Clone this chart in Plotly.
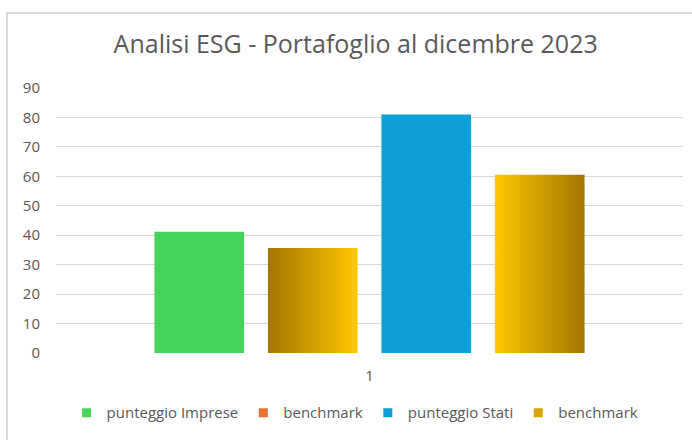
import plotly.graph_objects as go

C_TEXT = '#595959'
C_GRID = '#d9d9d9'
FONT = 'Open Sans, Roboto, sans-serif'

categoria = ['1']
serie = ['punteggio Imprese', 'benchmark', 'punteggio Stati', 'benchmark']
valori = [41.2, 35.7, 81.0, 60.5]
colori = ['#44d55a', '#d9a300', '#0f9ed5', '#d9a300']
colori_legenda = ['#44d55a', '#e97132', '#0f9ed5', '#d9a300']
# gradiente (None = tinta unita)
gradienti = [
    None,
    [[0, '#a37500'], [1, '#ffc800']],
    None,
    [[0, '#ffc800'], [1, '#a37500']],
]
y_ticks = list(range(0, 100, 10))

BAR_W = 0.143
SLOT = 0.181
start = -2 * SLOT + (SLOT - BAR_W) / 2

fig = go.Figure()
for i, (name, v, c, g) in enumerate(zip(serie, valori, colori, gradienti)):
    x0 = start + i * SLOT
    x1 = x0 + BAR_W
    if g is None:
        fig.add_trace(go.Bar(
            x=[0], y=[v], width=BAR_W, offset=x0,
            marker=dict(color=c, line=dict(width=0)),
            showlegend=False, name=name,
        ))
    else:
        fig.add_trace(go.Scatter(
            x=[x0, x1, x1, x0, x0], y=[0, 0, v, v, 0],
            mode='lines', line=dict(width=0), fill='toself',
            fillgradient=dict(type='horizontal', colorscale=g),
            showlegend=False, name=name, hoverinfo='skip',
        ))

# voci di legenda
for name, c in zip(serie, colori_legenda):
    fig.add_trace(go.Scatter(
        x=[None], y=[None], mode='markers', name=name,
        marker=dict(symbol='square', size=9, color=c),
    ))

fig.update_layout(
    width=692, height=440,
    paper_bgcolor='white', plot_bgcolor='white',
    font=dict(family=FONT, color=C_TEXT, size=14),
    margin=dict(l=56, r=9, t=88, b=87),
    barmode='overlay',
    title=dict(text='Analisi ESG - Portafoglio al dicembre 2023',
               x=0.514, xanchor='center', y=1 - 44 / 440, yanchor='middle',
               font=dict(family=FONT, size=25, color=C_TEXT)),
    xaxis=dict(range=[-0.5, 0.5], tickvals=[0], ticktext=categoria,
               showgrid=False, zeroline=False, showline=False,
               ticklabelstandoff=12, tickfont=dict(size=15, color=C_TEXT)),
    yaxis=dict(range=[0, 90], tickvals=y_ticks, showgrid=True,
               gridcolor=C_GRID, gridwidth=1.3, zeroline=False, showline=False,
               ticklabelstandoff=15, tickfont=dict(size=15, color=C_TEXT)),
    legend=dict(orientation='h', x=0.477, xanchor='center', y=-0.226, yanchor='middle',
                font=dict(size=15, color=C_TEXT), itemwidth=30),
    shapes=[dict(type='rect', xref='paper', yref='paper',
                 x0=-49 / 627, x1=1.2, y0=-0.5, y1=(353 - 13) / 265,
                 line=dict(color=C_GRID, width=2), layer='below')],
)

fig.write_html('out.html', config={'displayModeBar': False},
               post_script="document.body.style.margin='0';")
